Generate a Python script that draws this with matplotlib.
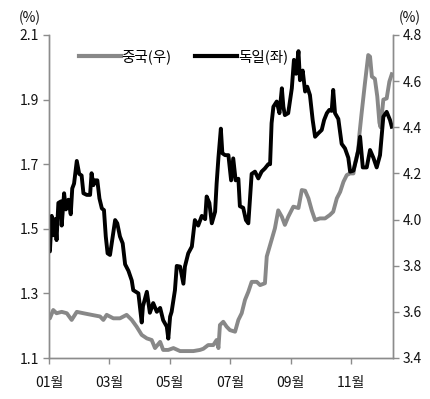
import matplotlib
matplotlib.use("Agg")
import matplotlib.pyplot as plt
from matplotlib.lines import Line2D

plt.rcParams['font.family'] = ['Noto Sans CJK KR', 'DejaVu Sans']

# Germany (left axis), x in months
de_x = [1.00, 1.03, 1.09, 1.14, 1.20, 1.25, 1.31, 1.40, 1.42, 1.50, 1.56, 1.64, 1.72, 1.77, 1.83, 1.92,
        2.00, 2.08, 2.14, 2.25, 2.36, 2.41, 2.47, 2.52, 2.60, 2.67, 2.75, 2.82, 2.88, 2.94, 3.02, 3.11,
        3.19, 3.26, 3.35, 3.44, 3.52, 3.63, 3.74, 3.79, 3.96, 4.07, 4.11, 4.24, 4.34, 4.45, 4.57, 4.68,
        4.78, 4.90, 4.95, 5.01, 5.06, 5.17, 5.23, 5.34, 5.45, 5.50, 5.61, 5.73, 5.83, 5.94, 6.06, 6.17,
        6.22, 6.31, 6.39, 6.50, 6.55, 6.61, 6.69, 6.74, 6.83, 6.94, 7.03, 7.10, 7.18, 7.27, 7.32, 7.43,
        7.52, 7.60, 7.71, 7.82, 7.93, 8.04, 8.15, 8.26, 8.32, 8.37, 8.43, 8.54, 8.63, 8.71, 8.76, 8.81,
        8.92, 9.04, 9.11, 9.18, 9.26, 9.31, 9.40, 9.48, 9.55, 9.64, 9.73, 9.81, 9.92, 10.03, 10.11, 10.20,
        10.28, 10.36, 10.41, 10.47, 10.58, 10.69, 10.80, 10.91, 10.97, 11.08, 11.17, 11.24, 11.30, 11.39,
        11.52, 11.63, 11.74, 11.85, 11.96, 12.07, 12.18, 12.29, 12.35]
de_y = [1.44, 1.43, 1.54, 1.48, 1.53, 1.465, 1.58, 1.585, 1.51, 1.61, 1.56, 1.59, 1.545, 1.625, 1.64, 1.71,
        1.67, 1.665, 1.61, 1.605, 1.605, 1.672, 1.635, 1.65, 1.65, 1.594, 1.563, 1.558, 1.476, 1.424, 1.419, 1.476,
        1.527, 1.517, 1.476, 1.455, 1.39, 1.37, 1.34, 1.31, 1.30, 1.21, 1.26, 1.305, 1.24, 1.27, 1.243, 1.255,
        1.217, 1.197, 1.16, 1.228, 1.243, 1.31, 1.385, 1.383, 1.33, 1.383, 1.424, 1.445, 1.527, 1.51, 1.54, 1.53,
        1.60, 1.58, 1.517, 1.553, 1.64, 1.72, 1.81, 1.734, 1.728, 1.728, 1.65, 1.718, 1.65, 1.655, 1.57, 1.565,
        1.527, 1.517, 1.67, 1.677, 1.656, 1.677, 1.687, 1.70, 1.70, 1.827, 1.878, 1.894, 1.858, 1.935, 1.878, 1.852,
        1.858, 1.935, 2.023, 1.98, 2.05, 1.96, 1.99, 1.925, 1.94, 1.914, 1.837, 1.785, 1.796, 1.806, 1.837, 1.858,
        1.868, 1.865, 1.93, 1.858, 1.84, 1.763, 1.749, 1.72, 1.677, 1.68, 1.713, 1.744, 1.785, 1.69,
        1.69, 1.744, 1.72, 1.69, 1.728, 1.847, 1.862, 1.837, 1.816]

# China (right axis)
cn_x = [1.00, 1.03, 1.14, 1.25, 1.42, 1.59, 1.75, 1.92, 2.14, 2.41, 2.69, 2.80, 2.91, 3.13, 3.35, 3.57,
        3.74, 3.90, 4.07, 4.24, 4.40, 4.51, 4.68, 4.78, 4.95, 5.12, 5.34, 5.56, 5.78, 6.00, 6.11, 6.27,
        6.44, 6.55, 6.61, 6.66, 6.77, 6.88, 6.99, 7.16, 7.27, 7.38, 7.49, 7.60, 7.71, 7.88, 7.99, 8.15,
        8.21, 8.37, 8.48, 8.59, 8.71, 8.81, 8.92, 9.09, 9.26, 9.37, 9.48, 9.59, 9.70, 9.81, 9.97, 10.14,
        10.30, 10.41, 10.53, 10.64, 10.75, 10.86, 10.97, 11.08, 11.13, 11.24, 11.27, 11.35, 11.46, 11.57,
        11.63, 11.69, 11.79, 11.87, 11.94, 11.98, 12.07, 12.18, 12.27, 12.35]
cn_y = [3.58, 3.572, 3.608, 3.594, 3.60, 3.594, 3.565, 3.60, 3.594, 3.587, 3.58, 3.565, 3.587, 3.572, 3.572, 3.587,
        3.565, 3.536, 3.50, 3.485, 3.478, 3.443, 3.47, 3.435, 3.435, 3.443, 3.43, 3.43, 3.43, 3.435, 3.44, 3.456,
        3.456, 3.478, 3.443, 3.543, 3.557, 3.536, 3.521, 3.514, 3.565, 3.594, 3.652, 3.687, 3.73, 3.73, 3.716, 3.724,
        3.84, 3.912, 3.962, 4.04, 4.012, 3.977, 4.012, 4.056, 4.05, 4.128, 4.125, 4.092, 4.04, 3.998, 4.005, 4.005,
        4.02, 4.034, 4.092, 4.12, 4.164, 4.193, 4.20, 4.20, 4.244, 4.30, 4.36, 4.46, 4.59, 4.713,
        4.706, 4.62, 4.61, 4.533, 4.42, 4.40, 4.52, 4.525, 4.598, 4.63]

x_ticks = [1, 3, 5, 7, 9, 11]
x_labels = ['01월', '03월', '05월', '07월', '09월', '11월']
left_ticks = [1.1, 1.3, 1.5, 1.7, 1.9, 2.1]
right_ticks = [3.4, 3.6, 3.8, 4.0, 4.2, 4.4, 4.6, 4.8]
legend_labels = ['중국(우)', '독일(좌)']

W, H = 431, 399
fig = plt.figure(figsize=(W / 100, H / 100), dpi=100)
ax = fig.add_axes([49 / W, 1 - 358 / H, (393 - 49) / W, (358 - 35) / H])
ax2 = ax.twinx()
ax.set_zorder(ax2.get_zorder() + 1)
ax.patch.set_visible(False)

axis_col = '#8c8c8c'
gray = '#888888'
ax.plot(de_x, de_y, color='black', lw=2.8, solid_joinstyle='round')
ax2.plot(cn_x, cn_y, color=gray, lw=2.8, solid_joinstyle='round')

ax.set_xlim(1, 12.39)
ax.set_ylim(1.1, 2.1)
ax2.set_ylim(3.4, 4.8)
ax.set_xticks(x_ticks)
ax.set_xticklabels(x_labels)
ax.set_yticks(left_ticks)
ax.set_yticklabels([f'{v:.1f}' for v in left_ticks])
ax2.set_yticks(right_ticks)
ax2.set_yticklabels([f'{v:.1f}' for v in right_ticks])

for a in (ax, ax2):
    a.spines['top'].set_visible(False)
    for s in ('left', 'right', 'bottom'):
        a.spines[s].set_color(axis_col)
        a.spines[s].set_linewidth(1.0)
    a.tick_params(colors=axis_col, labelcolor='#111111', labelsize=10, length=4, width=1, direction='out')
ax.tick_params(axis='y', pad=3)
ax2.tick_params(axis='y', pad=3)
ax.tick_params(axis='x', pad=9)

fig.text(30 / W, 1 - 18 / H, '(%)', ha='center', va='center', fontsize=10, color='#111111')
fig.text(410 / W, 1 - 18 / H, '(%)', ha='center', va='center', fontsize=10, color='#111111')

handles = [Line2D([], [], color=gray, lw=3), Line2D([], [], color='black', lw=3)]
ax.legend(handles, legend_labels, loc='center left', bbox_to_anchor=(0.086, 0.932), ncol=2,
          frameon=False, fontsize=10.5, handlelength=2.9, handletextpad=0.05, columnspacing=1.6,
          borderaxespad=0, borderpad=0)

fig.savefig('out.png', dpi=100)
